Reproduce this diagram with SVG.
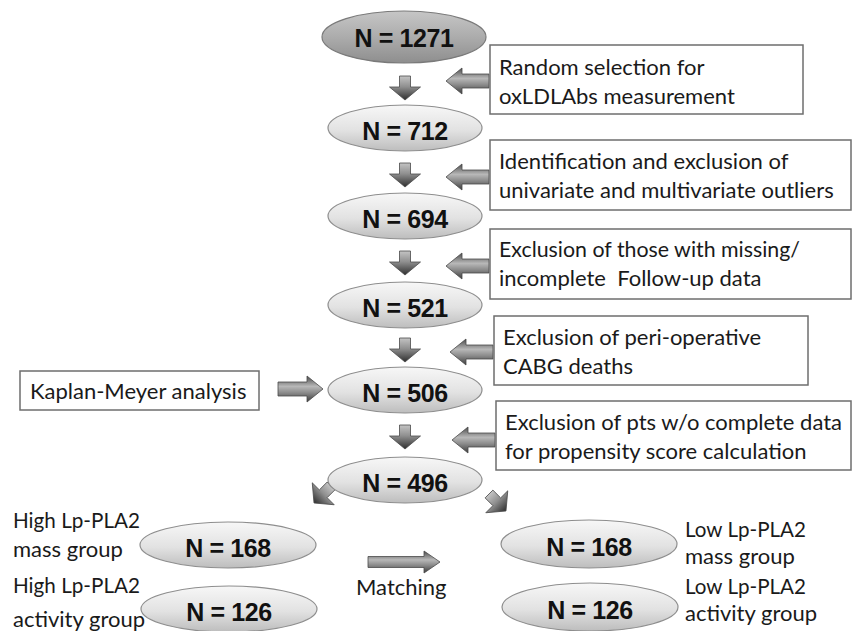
<svg xmlns="http://www.w3.org/2000/svg" width="853" height="631" viewBox="0 0 853 631">
<defs>
<linearGradient id="gLight" x1="0" y1="0" x2="0" y2="1">
<stop offset="0" stop-color="#f7f7f7"/>
<stop offset="0.55" stop-color="#e2e2e2"/>
<stop offset="1" stop-color="#bdbdbd"/>
</linearGradient>
<linearGradient id="gDark" x1="0" y1="0" x2="0" y2="1">
<stop offset="0" stop-color="#c6c6c6"/>
<stop offset="0.5" stop-color="#acacac"/>
<stop offset="1" stop-color="#8e8e8e"/>
</linearGradient>
<linearGradient id="gDown" x1="0" y1="0" x2="0" y2="1">
<stop offset="0" stop-color="#c4c4c4"/>
<stop offset="0.45" stop-color="#8f8f8f"/>
<stop offset="1" stop-color="#2e2e2e"/>
</linearGradient>
<linearGradient id="gSide" x1="0" y1="0" x2="0" y2="1">
<stop offset="0" stop-color="#4a4a4a"/>
<stop offset="0.4" stop-color="#b8b8b8"/>
<stop offset="0.65" stop-color="#8a8a8a"/>
<stop offset="1" stop-color="#3c3c3c"/>
</linearGradient>
<path id="down" d="M-5.5,0 H5.5 V11 H15.5 L0,24 L-15.5,11 H-5.5 Z"/>
<path id="left" d="M0,0 L16,-13 V-7 H43 V7 H16 V13 Z"/>
<path id="right" d="M0,0 L-16,-13 V-7 H-45 V7 H-16 V13 Z"/>
</defs>
<style>
.ell{fill:url(#gLight);stroke:#8e8e8e;stroke-width:1.2}
.ellD{fill:url(#gDark);stroke:#7a7a7a;stroke-width:1.2}
.num{font-family:"Liberation Sans",Arial,sans-serif;font-weight:bold;font-size:25px;letter-spacing:-0.4px;fill:#111;text-anchor:middle}
.box{fill:#fff;stroke:#6e6e6e;stroke-width:1.5}
.lbl{font-family:Lato,"Open Sans",sans-serif;font-size:22px;fill:#1a1a1a}
.ad{fill:url(#gDown);stroke:#4a4a4a;stroke-width:0.8}
.as{fill:url(#gSide);stroke:#4a4a4a;stroke-width:0.8}
</style>
<rect width="853" height="631" fill="#fff"/>

<g id="connectors">
<use href="#down" class="ad" x="405" y="76"/>
<use href="#down" class="ad" x="405" y="163"/>
<use href="#down" class="ad" x="405" y="251"/>
<use href="#down" class="ad" x="405" y="338"/>
<use href="#down" class="ad" x="405" y="425"/>
<use href="#left" class="as" x="446" y="81"/>
<use href="#left" class="as" x="446" y="177"/>
<use href="#left" class="as" x="446" y="266"/>
<use href="#left" class="as" x="450" y="352"/>
<use href="#left" class="as" x="452" y="440"/>
<use href="#right" class="as" x="323" y="389"/>
<use href="#down" class="ad" transform="translate(331,486) rotate(45)"/>
<use href="#down" class="ad" transform="translate(489,494) rotate(-45)"/>
<path class="as" d="M440,562 L424,551 V556.5 H368 V567.5 H424 V573 Z"/>
</g>

<g id="n1271"><ellipse class="ellD" cx="404" cy="37" rx="82" ry="26"/><text class="num" x="404" y="47">N = 1271</text></g>
<g id="n712"><ellipse class="ell" cx="405" cy="128" rx="77" ry="23"/><text class="num" x="405" y="140">N = 712</text></g>
<g id="n694"><ellipse class="ell" cx="405" cy="216" rx="77" ry="23"/><text class="num" x="405" y="228">N = 694</text></g>
<g id="n521"><ellipse class="ell" cx="405" cy="305" rx="77" ry="23"/><text class="num" x="405" y="317">N = 521</text></g>
<g id="n506"><ellipse class="ell" cx="405" cy="390" rx="77" ry="23"/><text class="num" x="405" y="402">N = 506</text></g>
<g id="n496"><ellipse class="ell" cx="405" cy="480" rx="77" ry="23"/><text class="num" x="405" y="492">N = 496</text></g>

<g id="box1"><rect class="box" x="490" y="45" width="313" height="69"/><text class="lbl" x="499" y="75">Random selection for</text><text class="lbl" x="499" y="104">oxLDLAbs measurement</text></g>
<g id="box2"><rect class="box" x="490" y="140" width="361" height="70"/><text class="lbl" x="499" y="169">Identification and exclusion of</text><text class="lbl" x="499" y="198">univariate and multivariate outliers</text></g>
<g id="box3"><rect class="box" x="490" y="229" width="361" height="70"/><text class="lbl" x="499" y="257" textLength="301" lengthAdjust="spacingAndGlyphs">Exclusion of those with missing/</text><text class="lbl" x="499" y="286" xml:space="preserve">incomplete  Follow-up data</text></g>
<g id="box4"><rect class="box" x="494" y="316" width="314" height="69"/><text class="lbl" x="503" y="345">Exclusion of peri-operative</text><text class="lbl" x="503" y="374">CABG deaths</text></g>
<g id="box5"><rect class="box" x="496" y="401" width="355" height="69"/><text class="lbl" x="505" y="430" textLength="337" lengthAdjust="spacingAndGlyphs">Exclusion of pts w/o complete data</text><text class="lbl" x="505" y="459">for propensity score calculation</text></g>
<g id="kaplan"><rect class="box" x="20" y="371" width="239" height="39"/><text class="lbl" x="30" y="399">Kaplan-Meyer analysis</text></g>

<g id="high168"><ellipse class="ell" cx="228" cy="545" rx="88" ry="23"/><text class="num" x="228" y="557">N = 168</text></g>
<g id="high126"><ellipse class="ell" cx="229" cy="609" rx="88" ry="23"/><text class="num" x="229" y="621">N = 126</text></g>
<g id="low168"><ellipse class="ell" cx="589" cy="544" rx="88" ry="24"/><text class="num" x="589" y="556">N = 168</text></g>
<g id="low126"><ellipse class="ell" cx="590" cy="607" rx="88" ry="24"/><text class="num" x="590" y="619">N = 126</text></g>

<g id="labels">
<text class="lbl" x="13" y="528" textLength="127" lengthAdjust="spacingAndGlyphs">High Lp-PLA2</text>
<text class="lbl" x="13" y="557">mass group</text>
<text class="lbl" x="13" y="593" textLength="127" lengthAdjust="spacingAndGlyphs">High Lp-PLA2</text>
<text class="lbl" x="13" y="627">activity group</text>
<text class="lbl" x="685" y="537" textLength="121" lengthAdjust="spacingAndGlyphs">Low Lp-PLA2</text>
<text class="lbl" x="685" y="564">mass group</text>
<text class="lbl" x="685" y="594" textLength="121" lengthAdjust="spacingAndGlyphs">Low Lp-PLA2</text>
<text class="lbl" x="685" y="621">activity group</text>
<text class="lbl" x="356" y="595">Matching</text>
</g>
</svg>
